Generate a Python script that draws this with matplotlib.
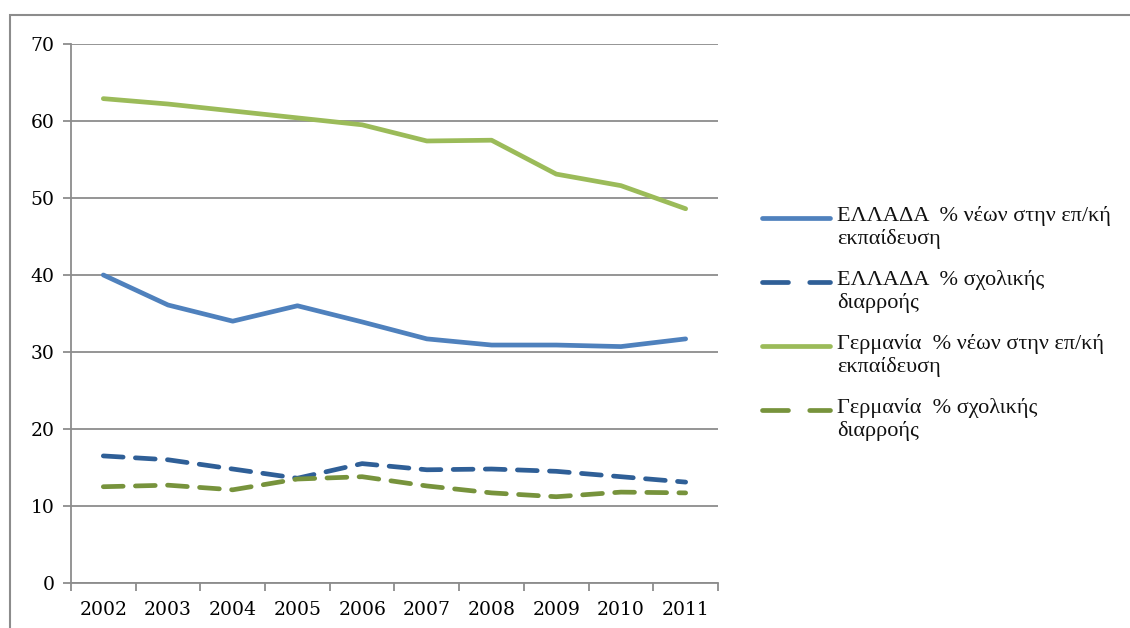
import numpy as np
import matplotlib.pyplot as plt
from matplotlib.lines import Line2D
from matplotlib.patches import Rectangle

# data
years = ['2002', '2003', '2004', '2005', '2006', '2007', '2008', '2009', '2010', '2011']
gr_vet = [40.0, 36.1, 34.0, 36.0, 33.9, 31.7, 30.9, 30.9, 30.7, 31.7]
gr_drop = [16.5, 16.0, 14.8, 13.6, 15.5, 14.7, 14.8, 14.5, 13.8, 13.1]
de_vet = [62.9, 62.2, 61.3, 60.4, 59.5, 57.4, 57.5, 53.1, 51.6, 48.6]
de_drop = [12.5, 12.7, 12.1, 13.5, 13.8, 12.6, 11.7, 11.2, 11.8, 11.7]

labels = ['ΕΛΛΑΔΑ  % νέων στην επ/κή\nεκπαίδευση',
          'ΕΛΛΑΔΑ  % σχολικής\nδιαρροής',
          'Γερμανία  % νέων στην επ/κή\nεκπαίδευση',
          'Γερμανία  % σχολικής\nδιαρροής']
series = [gr_vet, gr_drop, de_vet, de_drop]
colors = ['#4F81BD', '#2F5F97', '#9BBB59', '#77933C']
styles = ['solid', 'dash', 'solid', 'dash']

fig = plt.figure(figsize=(11.3, 6.28), dpi=100)
ax = fig.add_axes([0.0628, 0.0717, 0.5726, 0.8583])

x = np.arange(len(years))
lw = 3.4
for ys, c, st in zip(series, colors, styles):
    if st == 'dash':
        ax.plot(x, ys, color=c, lw=lw, dashes=(4.2, 2.6), dash_capstyle='round',
                solid_joinstyle='round')
    else:
        ax.plot(x, ys, color=c, lw=lw, solid_capstyle='round', solid_joinstyle='round')

ax.set_xlim(-0.5, len(years) - 0.5)
ax.set_ylim(0, 70)
ax.set_yticks(np.arange(0, 71, 10))
ax.yaxis.grid(True, color='#8C8C8C', lw=1.3)
ax.set_axisbelow(True)

ax.set_xticks(np.arange(-0.5, len(years), 1.0))
ax.set_xticklabels([])
ax.set_xticks(x, minor=True)
ax.set_xticklabels(years, minor=True)
ax.tick_params(axis='x', which='minor', length=0, pad=13)
ax.tick_params(axis='x', which='major', length=6, width=1.3, color='#8C8C8C')
ax.tick_params(axis='y', length=6, width=1.3, color='#8C8C8C', pad=6)

for lab in ax.get_xticklabels(minor=True) + ax.get_yticklabels():
    lab.set_family('DejaVu Serif')
    lab.set_fontsize(13.5)
    lab.set_color('#000000')

for s in ['top', 'right']:
    ax.spines[s].set_visible(False)
for s in ['left', 'bottom']:
    ax.spines[s].set_color('#8C8C8C')
    ax.spines[s].set_linewidth(1.3)

# legend drawn by hand so the key sits on the first text line
lx0, lx1 = 762 / 1130, 830 / 1130
ly = [218, 282, 346, 410]
for yy, lab, c, st in zip(ly, labels, colors, styles):
    yf = 1 - yy / 628
    ln = Line2D([lx0, lx1], [yf, yf], transform=fig.transFigure, color=c, lw=lw,
                solid_capstyle='round', dash_capstyle='round')
    if st == 'dash':
        ln.set_dashes((5.5, 4.5))
    fig.add_artist(ln)
    fig.text(837 / 1130, yf + 12 / 628, lab, ha='left', va='top',
             family='Liberation Serif', fontsize=16, color='#111111',
             linespacing=1.2)

# outer chart border
fig.add_artist(Rectangle((10 / 1130, -0.1), 1.2, 1 - 15 / 628 + 0.1,
                         transform=fig.transFigure, fill=False,
                         edgecolor='#8C8C8C', lw=1.5))

plt.savefig('out.png', dpi=100)
